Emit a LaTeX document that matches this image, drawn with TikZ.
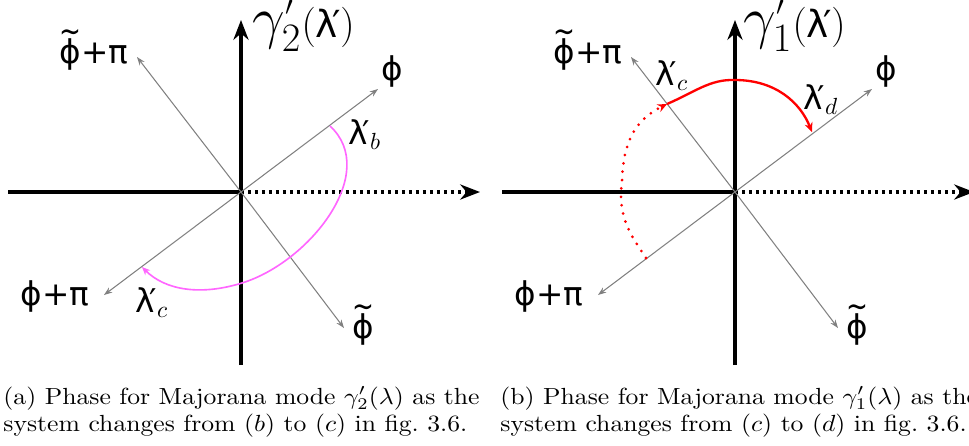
\documentclass[tikz,border=0pt]{standalone}
\usepackage{fontspec}
\newfontfamily\dejavu{DejaVu Sans}
\usetikzlibrary{arrows.meta}
\definecolor{arcpink}{HTML}{FF66FF}
\definecolor{arcred}{HTML}{FF0000}
\newcommand{\tildephi}{\ooalign{ϕ\cr\hidewidth\raisebox{0.62em}{\scalebox{0.8}[1]{∼}}\hidewidth\cr}}
\newcommand{\lamp}{λ\kern-0.16em′}
\tikzset{
  mainaxis/.style={line width=1.3pt, -{Stealth[length=8.5pt,width=6.5pt]}},
  phaseaxis/.style={gray, line width=0.45pt, -{Stealth[length=3.6pt,width=2.6pt]}},
  axislabel/.style={font=\fontsize{14}{16}\selectfont\dejavu, inner sep=0pt},
  lamlabel/.style={font=\fontsize{14}{16}\selectfont, inner sep=0pt},
  gammalabel/.style={anchor=base west, inner sep=0pt},
  caption/.style={font=\fontsize{10}{12}\selectfont, anchor=base west, inner sep=0pt},
}

\begin{document}
\begin{tikzpicture}[x=0.4286pt, y=-0.4286pt]
    \useasboundingbox (0,0) rectangle (969,445);

    % Panel (a)
    \begin{scope}[shift={(241,192)}]
        \coordinate (oa) at (0,0);
        \coordinate (lefta) at (-233,0);
        \coordinate (righta) at (239,0);
        \coordinate (upa) at (0,-172);
        \coordinate (downa) at (0,173);
        \coordinate (phia) at (137,-103);
        \coordinate (phipia) at (-137,103);
        \coordinate (tphipia) at (-104,-135);
        \coordinate (tphia) at (103,136);

        % Axes
        \draw[line width=1.3pt] (lefta) -- (oa);
        \draw[mainaxis, dash pattern=on 1.4pt off 1.6pt] (oa) -- (righta);
        \draw[mainaxis] (downa) -- (upa);
        \draw[phaseaxis] (oa) -- (phia);
        \draw[phaseaxis] (oa) -- (phipia);
        \draw[phaseaxis] (oa) -- (tphipia);
        \draw[phaseaxis] (oa) -- (tphia);

        % Labels
        \node[gammalabel] (gammaa) at (11,-155) {\fontsize{24}{28}\selectfont$\gamma^{\scriptscriptstyle\prime}_2$\fontsize{16}{19}\selectfont$(\mbox{\dejavu\lamp})$};
        \node[axislabel] (phiat) at (151,-121) {ϕ};
        \node[axislabel] (phipiat) at (-186,104) {ϕ+π};
        \node[axislabel, anchor=base] (tphipiat) at (-147,-129) {\tildephi+π};
        \node[axislabel, anchor=base] (tphiat) at (122,146) {\tildephi};
        \node[lamlabel] (lambt) at (124,-57) {$\mbox{\dejavu\lamp}_b$};
        \node[lamlabel] (lamct) at (-89,111) {$\mbox{\dejavu\lamp}_c$};

        % Path from b to c
        \coordinate (lamba) at (89,-66);
        \coordinate (bota) at (1,91);
        \coordinate (lamca) at (-99,75);
        \draw[arcpink, line width=0.7pt, -{Stealth[length=3.5pt,width=3pt]}]
            (lamba) .. controls (139,-20) and (69,70) .. (bota)
            .. controls (-41,104) and (-76,98) .. (lamca);
    \end{scope}

    % Panel (b)
    \begin{scope}[shift={(735,192)}]
        \coordinate (ob) at (0,0);
        \coordinate (leftb) at (-233,0);
        \coordinate (rightb) at (239,0);
        \coordinate (upb) at (0,-172);
        \coordinate (downb) at (0,173);
        \coordinate (phib) at (137,-103);
        \coordinate (phipib) at (-137,103);
        \coordinate (tphipib) at (-104,-135);
        \coordinate (tphib) at (103,136);

        % Axes
        \draw[line width=1.3pt] (leftb) -- (ob);
        \draw[mainaxis, dash pattern=on 1.4pt off 1.6pt] (ob) -- (rightb);
        \draw[mainaxis] (downb) -- (upb);
        \draw[phaseaxis] (ob) -- (phib);
        \draw[phaseaxis] (ob) -- (phipib);
        \draw[phaseaxis] (ob) -- (tphipib);
        \draw[phaseaxis] (ob) -- (tphib);

        % Labels
        \node[gammalabel] (gammab) at (8,-155) {\fontsize{24}{28}\selectfont$\gamma^{\scriptscriptstyle\prime}_1$\fontsize{16}{19}\selectfont$(\mbox{\dejavu\lamp})$};
        \node[axislabel] (phibt) at (151,-121) {ϕ};
        \node[axislabel] (phipibt) at (-186,104) {ϕ+π};
        \node[axislabel, anchor=base] (tphipibt) at (-147,-129) {\tildephi+π};
        \node[axislabel, anchor=base] (tphibt) at (122,146) {\tildephi};
        \node[lamlabel] (lamctb) at (-63,-116) {$\mbox{\dejavu\lamp}_c$};
        \node[lamlabel] (lamdt) at (86,-92) {$\mbox{\dejavu\lamp}_d$};

        % Path from c to d
        \coordinate (startb) at (-89,66);
        \coordinate (leftmidb) at (-113,-10);
        \coordinate (lamcb) at (-68,-88);
        \coordinate (topb) at (0,-112);
        \coordinate (lamdb) at (77,-60);
        \draw[arcred, line width=1.3pt, line cap=round, dash pattern=on 0pt off 3.6pt, -{Stealth[length=4pt,width=3.5pt]}]
            (startb) .. controls (-103,45) and (-118,25) .. (leftmidb)
            .. controls (-112,-50) and (-100,-72) .. (lamcb);
        \draw[arcred, line width=1pt, -{Stealth[length=4pt,width=3.5pt]}]
            (lamcb) .. controls (-40,-100) and (-25,-113) .. (topb)
            .. controls (40,-112) and (65,-90) .. (lamdb);
    \end{scope}

    % Captions
    \node[caption] (capa1) at (3,404) {\scalebox{1.1}[1]{(a) Phase for Majorana mode $\gamma_2'(\lambda)$ as the}};
    \node[caption] (capa2) at (3,431) {\scalebox{1.1}[1]{system changes from $(b)$ to $(c)$ in fig.~3.6.}};
    \node[caption] (capb1) at (500,404) {\scalebox{1.1}[1]{(b) Phase for Majorana mode $\gamma_1'(\lambda)$ as the}};
    \node[caption] (capb2) at (500,431) {\scalebox{1.1}[1]{system changes from $(c)$ to $(d)$ in fig.~3.6.}};
\end{tikzpicture}
\end{document}
